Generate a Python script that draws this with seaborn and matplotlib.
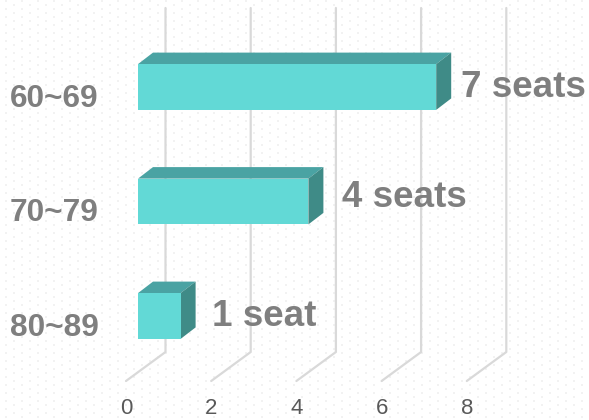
import numpy as np
import pandas as pd
import matplotlib
matplotlib.use('Agg')
import matplotlib.pyplot as plt
from matplotlib.patches import Polygon
import seaborn as sns

# values
age_groups = ['60~69', '70~79', '80~89']
seats = [7, 4, 1]
seat_labels = ['7 seats', '4 seats', '1 seat']
x_ticks = [0, 2, 4, 6, 8]

W, H = 589, 420
PX_PER_UNIT = 42.6
PX_PER_CAT = 114.5
X0_PX, Y0_PX = 138, 87

FRONT = '#62D9D6'
TOP = '#4AA3A3'
SIDE = '#3F8B87'
GRID = '#D9D9D9'
GREY = '#7F7F7F'

sns.set_theme(style='white')
plt.rcParams['font.family'] = ['Liberation Sans', 'DejaVu Sans']

df = pd.DataFrame({'age': age_groups, 'seats': seats})

fig = plt.figure(figsize=(W / 100, H / 100), dpi=100)
ax = fig.add_axes([0, 0, 1, 1])

sns.barplot(data=df, y='age', x='seats', color=FRONT, saturation=1, width=0.4,
            linewidth=0, ax=ax, zorder=5)

# map data units to the picture's pixels
ax.set_xlim(-X0_PX / PX_PER_UNIT, (W - X0_PX) / PX_PER_UNIT)
ax.set_ylim((H - Y0_PX) / PX_PER_CAT, -Y0_PX / PX_PER_CAT)
ax.axis('off')


def px_x(p):
    return (p - X0_PX) / PX_PER_UNIT


def px_y(p):
    return (p - Y0_PX) / PX_PER_CAT


# dotted wallpaper
for j, row in enumerate(np.arange(1, H, 4)):
    xs = np.arange(6 + (j % 2) * 8, W, 16)
    ax.scatter(px_x(xs), np.full(len(xs), px_y(row)), s=2.5, marker='s', color='#F2F2F2',
               linewidths=0, zorder=0)

# walls and floor lines of the 3d grid
back_dx = 27.5 / PX_PER_UNIT
front_dx = -12 / PX_PER_UNIT
for t in x_ticks:
    ax.plot([t + back_dx, t + back_dx, t + front_dx],
            [px_y(8), px_y(352), px_y(381)],
            color=GRID, lw=1.6, zorder=1, solid_joinstyle='round')
    ax.text(t + front_dx, px_y(409), str(t), ha='center', va='center',
            fontsize=16, color='#595959')

# depth faces from the bars seaborn drew
dx = 15 / PX_PER_UNIT
dy = 11.5 / PX_PER_CAT
for bar in ax.patches:
    x1 = bar.get_x() + bar.get_width()
    top = min(bar.get_y(), bar.get_y() + bar.get_height())
    bot = max(bar.get_y(), bar.get_y() + bar.get_height())
    ax.add_patch(Polygon([(0, top), (x1, top), (x1 + dx, top - dy), (dx, top - dy)],
                         facecolor=TOP, edgecolor='none', zorder=4))
    ax.add_patch(Polygon([(x1, top), (x1 + dx, top - dy), (x1 + dx, bot - dy), (x1, bot)],
                         facecolor=SIDE, edgecolor='none', zorder=4))

# category labels and value labels
label_off = [(24.5, 1), (34, -4), (31, 1)]
for i, (name, val, lab) in enumerate(zip(age_groups, seats, seat_labels)):
    ax.text(px_x(10), i + 12 / PX_PER_CAT, name, ha='left', va='center',
            fontsize=22.8, fontweight='bold', color=GREY, zorder=6)
    ax.text(val + label_off[i][0] / PX_PER_UNIT, i + label_off[i][1] / PX_PER_CAT,
            lab, ha='left', va='center', fontsize=26.5, fontweight='bold', color=GREY, zorder=6)

fig.savefig('out.png', dpi=100)
